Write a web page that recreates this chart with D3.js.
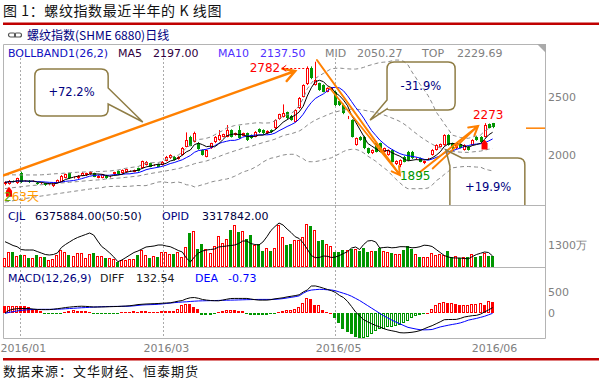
<!DOCTYPE html>
<html><head><meta charset="utf-8">
<script src="https://cdn.jsdelivr.net/npm/d3@7/dist/d3.min.js"></script>
<style>
body{margin:0;background:#fff}
svg{display:block}
text{font-family:"DejaVu Sans",sans-serif}
.cjk{font-family:"Noto Sans CJK SC",sans-serif}
</style></head><body>
<svg id="chart" width="599" height="380"></svg>
<script>
// ---------------- DATA ----------------
const opens = [1755,1749,1775,1757,1843,1775,1780,1772,1763,1757,
1757,1745,1730,1763,1771,1806,1843,1805,1800,1823,
1825,1834,1843,1806,1806,1823,1812,1834,1863,1843,
1857,1860,1857,1886,1891,1914,1928,1910,1920,1914,
1949,1971,1986,1966,2000,2071,2157,2114,2100,2043,
1986,2057,2108,2128,2157,2157,2214,2171,2214,2166,
2186,2171,2157,2223,2214,2186,2214,2228,2308,2328,
2366,2337,2286,2400,2500,2606,2743,2600,2614,2600,
2543,2557,2543,2460,2430,2314,2300,2086,2157,2157,
2057,2014,2100,2100,2028,2000,2043,1920,1914,1986,
2028,2028,1971,1971,1928,1965,2000,2043,2071,2086,
2171,2100,2057,2091,2043,2071,2086,2157,2157,2157,
2263,2271];
const highs = [1775,1785,1782,1805,1857,1782,1785,1782,1768,1765,
1762,1758,1762,1790,1828,1840,1848,1815,1828,1855,
1848,1862,1848,1828,1838,1830,1820,1856,1868,1876,
1882,1868,1875,1892,1952,1948,1934,1920,1926,1948,
1992,2006,1992,1990,2068,2194,2165,2200,2110,2048,
2048,2105,2162,2214,2182,2257,2220,2192,2251,2192,
2192,2176,2205,2228,2220,2212,2220,2306,2354,2434,
2372,2343,2392,2497,2606,2760,2760,2800,2620,2606,
2580,2580,2550,2470,2440,2335,2306,2150,2162,2165,
2063,2048,2106,2106,2063,2048,2050,1954,1962,1992,
2035,2035,1980,1978,1952,1975,2050,2092,2098,2178,
2178,2106,2092,2098,2092,2078,2135,2162,2162,2273,
2270,2275];
const lows = [1740,1745,1765,1752,1760,1770,1760,1768,1745,1750,
1735,1740,1725,1758,1768,1800,1795,1798,1795,1818,
1820,1830,1810,1800,1800,1795,1806,1830,1830,1840,
1852,1855,1852,1858,1886,1910,1895,1905,1895,1910,
1945,1966,1952,1960,1995,2066,2075,2108,2045,1995,
1980,2052,2102,2123,2152,2152,2150,2166,2138,2160,
2120,2138,2152,2188,2180,2180,2188,2222,2302,2322,
2308,2294,2280,2394,2494,2600,2650,2595,2550,2538,
2538,2550,2420,2420,2350,2308,2150,2080,2122,2050,
2008,2008,2022,2022,2022,1994,1937,1914,1895,1937,
1950,1965,1965,1938,1922,1960,1995,2038,2066,2080,
2080,2050,2050,2057,2038,2038,2080,2122,2108,2150,
2228,2230];
const closes = [1765,1777,1770,1800,1768,1777,1765,1776,1750,1760,
1740,1750,1757,1786,1823,1834,1800,1808,1823,1849,
1843,1857,1815,1823,1834,1800,1815,1851,1836,1871,
1877,1863,1871,1863,1948,1943,1900,1914,1900,1943,
1986,2000,1957,1986,2063,2128,2080,2186,2050,2000,
2043,2100,2157,2171,2177,2214,2157,2186,2143,2186,
2128,2143,2200,2194,2186,2206,2194,2300,2348,2357,
2314,2300,2386,2491,2600,2748,2657,2643,2557,2543,
2571,2571,2428,2430,2357,2328,2157,2143,2128,2057,
2014,2043,2028,2028,2057,2043,1943,1948,1957,1943,
1957,1971,1975,1943,1948,1968,2043,2086,2091,2171,
2086,2057,2086,2063,2086,2043,2128,2128,2114,2257,
2234,2240];
// volume (万手)
const volumes = [532,887,887,631,729,729,493,532,729,571,
591,394,433,690,1024,887,690,631,847,847,
532,788,827,670,670,532,532,433,276,374,
374,433,433,729,1024,690,532,630,591,867,
867,788,768,887,591,1162,2000,2150,1080,1360,
1080,830,1260,1850,1420,1680,2200,2480,2070,2150,
1680,1910,1280,1360,970,1120,930,1100,2500,1800,
1280,1380,1615,1615,1770,2560,2460,2200,1540,1580,
1340,1220,887,887,985,1024,1084,1084,946,1123,
887,946,946,1123,946,887,847,749,788,1024,
1221,1084,788,552,552,591,827,690,788,690,
946,591,630,493,591,591,749,591,630,847,
630,630];
// open interest (万手)
const openInterest = [389.0,381.8,373.8,369.0,357.8,355.8,355.8,355.8,349.8,343.8,
337.8,335.8,337.8,343.8,365.8,377.8,387.8,397.8,405.8,411.8,
417.8,423.8,415.8,391.8,369.8,357.8,343.8,327.8,309.0,315.8,
325.8,335.8,345.8,351.8,359.8,367.8,369.8,371.8,375.8,375.8,
371.8,369.0,361.8,353.8,347.8,323.8,307.8,327.8,343.8,351.8,
355.8,357.8,359.8,367.8,369.8,371.8,373.8,375.8,381.8,391.8,
391.8,381.8,377.8,375.8,387.8,409.0,433.8,449.8,463.8,455.8,
439.8,425.8,409.0,401.8,383.8,359.8,333.8,325.0,325.8,331.8,
330.6,325.8,327.8,333.8,341.8,349.0,363.8,367.8,357.8,377.8,
391.8,393.8,387.8,363.8,365.8,367.0,364.6,365.8,369.0,369.0,
367.8,364.6,365.8,369.0,375.0,373.8,369.8,357.8,345.8,333.8,
327.8,324.6,323.8,323.8,321.8,320.6,329.8,337.8,342.6,347.8,
345.8,331.8];
const diffValues = [7,70,95,108,112,112,111,100,90,87,
86,87,95,108,120,135,145,155,162,166,
162,156,148,148,150,152,155,158,160,166,
170,178,190,205,212,218,222,226,230,236,
242,246,265,285,300,340,365,370,352,325,
310,300,295,293,310,330,347,349,349,349,
349,335,320,310,310,310,320,340,352,365,
385,400,415,435,500,547,640,642,620,590,
560,531,490,420,370,280,160,31,-60,-150,
-200,-245,-286,-320,-360,-390,-410,-428,-455,-460,
-455,-445,-430,-405,-365,-325,-290,-245,-200,-151,
-146,-145,-143,-120,-87,-70,-55,-48,-20,31,
80,133];
const deaValues = [0,20,40,55,68,78,85,90,92,93,
93,93,94,96,100,106,112,118,124,130,
135,140,145,150,154,157,160,161,162,163,
165,168,175,185,195,200,203,206,212,220,
230,240,250,258,265,270,278,284,290,293,
295,297,299,302,305,307,309,311,314,317,
320,322,324,326,326,326,326,328,335,345,
360,375,390,410,470,520,545,555,563,560,
552,547,530,500,470,440,400,350,300,240,
180,120,60,0,-60,-110,-160,-205,-246,-290,
-330,-350,-370,-385,-389,-386,-380,-350,-320,-300,
-280,-262,-246,-225,-195,-160,-140,-120,-95,-70,
-35,-1];
const macdHist = [175,175,175,175,165,160,140,90,70,50,
-20,-25,-20,-25,-15,40,60,70,60,55,
50,40,-15,-20,-25,-20,-15,-10,-10,30,
35,40,45,40,50,45,40,40,40,45,
45,50,60,110,200,230,220,150,110,-30,
-45,-40,-25,40,55,70,80,70,60,45,
-15,-35,-40,-40,-35,-30,-15,-10,40,55,
70,80,95,140,240,357,335,200,200,80,
40,15,-120,-238,-357,-436,-476,-555,-580,-580,
-555,-476,-420,-380,-357,-333,-333,-300,-278,-238,
-175,-103,-63,-48,-24,15,95,198,238,262,
238,238,222,198,198,198,214,222,238,198,
293,266];
// Bollinger band values read for the first days (window history not shown)
const bollUpperEarly = [1830,1830,1830,1829,1829,1829,1829,1829,1829,1830,1832,1835,1838,1840,1842,1845,1847,1850,1852,1853,1855,1856,1857,1858,1859];
const bollMidEarly   = [1712,1716,1720,1724,1728,1732,1736,1739,1742,1745,1748,1751,1754,1757,1760,1763,1766,1769,1772,1775,1778,1781,1784,1786,1788];
const bollLowerEarly = [1597,1602,1608,1614,1620,1626,1632,1638,1643,1648,1653,1658,1663,1668,1673,1678,1683,1688,1693,1698,1703,1708,1712,1716,1719];
const priceTicks = [2000, 2500];
const volumeTicks = [1300];
const macdTicks = [0, 500];
const dateLabels = ["2016/01","2016/03","2016/05","2016/06"];
const dateIndex = [3.7, 39.2, 81.9, 120.6];
const legendBoll = ["BOLLBAND1(26,2)","MA5","2197.00","MA10","2137.50","MID","2050.27","TOP","2229.69"];
const legendVol = ["CJL","6375884.00(50:50)","OPID","3317842.00"];
const legendMacd = ["MACD(12,26,9)","DIFF","132.54","DEA","-0.73"];
const pctLabels = ["+72.2%","-31.9%","+19.9%"];
const extremeLabels = ["2782","2273","1895"];

// ---------------- SETUP ----------------
const svg = d3.select('#chart');
const N = closes.length;
const RED = '#ff0000', GREEN = '#009600', ORANGE = '#ff8000', BROWN = '#8f7d45';
const L = 3, R = 545, T = 44;
const x = d3.scaleLinear().domain([0, N - 1]).range([5, 492.6]);
const yP = d3.scaleLinear().domain([2000, 2500]).range([155, 96.7]);
const yV = d3.scaleLinear().domain([0, 1300]).range([266.7, 245]);
const yOI = d3.scaleLinear().domain([331.8, 463.8]).range([256, 223]);
const yM = d3.scaleLinear().domain([0, 500]).range([313.3, 292]);

const defs = svg.append('defs');
function clip(id, y0, y1){ defs.append('clipPath').attr('id', id).append('rect').attr('x', L).attr('y', y0).attr('width', R - L).attr('height', y1 - y0); }
clip('cp', 58, 205); clip('cv', 205, 267); clip('cm', 267, 338);

// Title
svg.append('text').attr('class','cjk').attr('x',3).attr('y',16).attr('font-size',14).attr('letter-spacing',0.6).attr('fill','#111').text('图 1：螺纹指数最近半年的 K 线图');
svg.append('rect').attr('x',3).attr('y',22.5).attr('width',596).attr('height',2.5).attr('fill','#c00000');
// link icon + subtitle
const ic = svg.append('g').attr('fill','none').attr('stroke','#555').attr('stroke-width',1.2);
ic.append('rect').attr('x',8.5).attr('y',33).attr('width',7).attr('height',4).attr('rx',2);
ic.append('rect').attr('x',14.5).attr('y',33).attr('width',7).attr('height',4).attr('rx',2);
svg.append('text').attr('class','cjk').attr('x',27).attr('y',39.5).attr('font-size',12).attr('fill','#000080').text('螺纹指数(SHME 6880)日线');

// Frame
const fr = svg.append('g').attr('stroke','#b4b4b4').attr('stroke-width',1).attr('fill','none');
fr.append('path').attr('d',`M${L+0.5},338.5V${T+0.5}H${R+0.5}V338.5H${L+0.5}`);
fr.append('line').attr('x1',L).attr('x2',R).attr('y1',205.5).attr('y2',205.5);
fr.append('line').attr('x1',L).attr('x2',R).attr('y1',267.5).attr('y2',267.5);
svg.append('path').attr('d',`M${R-8},${T}H${R+1}V${T+9}Z`).attr('fill','#aaa');

// month gridlines
const grid = svg.append('g').attr('stroke','#aaa').attr('stroke-dasharray','2,2');
dateIndex.slice(0,3).forEach(d => grid.append('line').attr('x1', Math.round(x(d))+0.5).attr('x2', Math.round(x(d))+0.5).attr('y1', 58).attr('y2', 338));

// ---------------- PRICE PANEL ----------------
const gP = svg.append('g').attr('clip-path','url(#cp)');
function sma(arr, n, i){ return d3.mean(arr.slice(Math.max(0, i - n + 1), i + 1)); }
const ma5 = closes.map((c, i) => sma(closes, 5, i));
const ma10 = closes.map((c, i) => sma(closes, 10, i));
const boll = closes.map((c, i) => {
  if (i < 25) return {u: bollUpperEarly[i], m: bollMidEarly[i], l: bollLowerEarly[i]};
  const w = closes.slice(i - 25, i + 1); const m = d3.mean(w);
  const sd = Math.sqrt(d3.mean(w, v => (v - m) * (v - m)));
  return {u: m + 2 * sd, m: m, l: m - 2 * sd};
});
// candles
closes.forEach((c, i) => {
  const cx = Math.round(x(i)); const up = c >= opens[i];
  const col = up ? RED : GREEN;
  gP.append('line').attr('x1', cx + 0.5).attr('x2', cx + 0.5).attr('y1', yP(highs[i])).attr('y2', yP(lows[i])).attr('stroke', col);
  const top = Math.round(yP(Math.max(c, opens[i]))), bot = Math.round(yP(Math.min(c, opens[i])));
  const h = Math.max(1, bot - top);
  if (up) gP.append('rect').attr('x', cx - 0.5).attr('y', top + 0.5).attr('width', 2).attr('height', Math.max(0, h - 1)).attr('fill', '#fff').attr('stroke', col);
  else gP.append('rect').attr('x', cx - 1).attr('y', top).attr('width', 3).attr('height', h).attr('fill', col);
});
const lineOf = (arr, ys) => d3.line().x((d, i) => x(i)).y(d => ys(d))(arr);
['u','m','l'].forEach(k => gP.append('path').attr('d', lineOf(boll.map(b => b[k]), yP)).attr('fill','none').attr('stroke','#8a8a8a').attr('stroke-dasharray','4,3'));
gP.append('path').attr('d', lineOf(ma10, yP)).attr('fill','none').attr('stroke','#0000ff');
gP.append('path').attr('d', lineOf(ma5, yP)).attr('fill','none').attr('stroke','#000');

// annotations (in data space)
function arrow(g, x1, y1, x2, y2, len, w){
  const a = Math.atan2(y2 - y1, x2 - x1);
  const p1 = [x2 - len * Math.cos(a - Math.PI / 6), y2 - len * Math.sin(a - Math.PI / 6)];
  const p2 = [x2 - len * Math.cos(a + Math.PI / 6), y2 - len * Math.sin(a + Math.PI / 6)];
  g.append('path').attr('d', `M${x1},${y1}L${x2},${y2}M${p1}L${x2},${y2}L${p2}`).attr('fill','none').attr('stroke', ORANGE).attr('stroke-width', w).attr('stroke-linecap','round');
}
const gA = svg.append('g').attr('clip-path','url(#cp)');
arrow(gA, x(-0.5), yP(1824), x(72), yP(2720), 13, 2.5);
arrow(gA, x(77.4), yP(2815), x(98), yP(1828), 9, 2);
gA.append('line').attr('x1', x(80.4)).attr('y1', yP(2583)).attr('x2', x(98)).attr('y2', yP(1828)).attr('stroke', ORANGE).attr('stroke-width', 1.8);
arrow(gA, x(103), yP(1854), x(117.4), yP(2249), 10, 2);
gA.append('line').attr('x1', x(106)).attr('y1', yP(1880)).attr('x2', x(117.4)).attr('y2', yP(2249)).attr('stroke', ORANGE).attr('stroke-width', 1.8);
svg.append('line').attr('x1', 526).attr('x2', R).attr('y1', yP(2230)).attr('y2', yP(2230)).attr('stroke', ORANGE).attr('stroke-width', 1.5);

function callout(d){ return gA.append('path').attr('d', d).attr('fill','none').attr('stroke', BROWN).attr('stroke-width', 1.5); }
{ // +72.2%
  const x0 = x(7.4), x1 = x(25.6), y0 = yP(2737), y1 = yP(2334), r = 7;
  callout(`M${x0+r},${y0}H${x1-r}Q${x1},${y0} ${x1},${y0+r}V${yP(2575)}L${x(34.2)},${yP(2283)}L${x1},${yP(2437)}V${y1-r}Q${x1},${y1} ${x1-r},${y1}H${x0+r}Q${x0},${y1} ${x0},${y1-r}V${y0+r}Q${x0},${y0} ${x0+r},${y0}Z`);
}
{ // -31.9%
  const x0 = x(94.8), x1 = x(111.7), y0 = yP(2798), y1 = yP(2386), r = 7;
  callout(`M${x0+r},${y0}H${x1-r}Q${x1},${y0} ${x1},${y0+r}V${y1-r}Q${x1},${y1} ${x1-r},${y1}H${x0+r}Q${x0},${y1} ${x0},${y1-1}L${x(90.6)},${yP(2300)}L${x0},${yP(2472)}V${y0+r}Q${x0},${y0} ${x0+r},${y0}Z`);
}
{ // +19.9%
  const x0 = x(110.4), x1 = x(129), y0 = yP(1974), y1 = yP(1485), r = 7;
  callout(`M${x(109.4)},${yP(2043)}L${x(113.4)},${y0}H${x1-r}Q${x1},${y0} ${x1},${y0+r}V${y1}H${x0}V${yP(1906)}Z`);
}
const pctPos = [[16.5, 2540], [103.2, 2592], [119.9, 1725]];
pctLabels.forEach((t, k) => gA.append('text').attr('x', x(pctPos[k][0])).attr('y', yP(pctPos[k][1])).attr('dy','0.35em').attr('text-anchor','middle').attr('font-size',11.5).attr('fill','#000080').text(t));

// extreme labels
gA.append('text').attr('x', x(68.3)).attr('y', yP(closes[75]) + 4.5).attr('text-anchor','end').attr('font-size',12).attr('fill', RED).text(extremeLabels[0]);
gA.append('line').attr('x1', x(68.8)).attr('x2', x(75) - 2).attr('y1', Math.round(yP(closes[75])) + 0.5).attr('y2', Math.round(yP(closes[75])) + 0.5).attr('stroke', RED).attr('stroke-dasharray','2,2');
gA.append('path').attr('d', `M${x(68.8)+4},${yP(closes[75])-2.5}L${x(68.8)},${yP(closes[75])+0.5}L${x(68.8)+4},${yP(closes[75])+3.5}`).attr('fill','none').attr('stroke', RED);
gA.append('text').attr('x', x(119.9)).attr('y', yP(highs[119]) - 4).attr('text-anchor','middle').attr('font-size',12).attr('fill', RED).text(extremeLabels[1]);
gA.append('text').attr('x', x(98)).attr('y', yP(lows[98]) + 13).attr('font-size',12).attr('fill', GREEN).text(extremeLabels[2]);
// signal markers below lows
[1, 119].forEach(i => {
  const cx = x(i), t = yP(lows[i]) + 2;
  gA.append('path').attr('d', `M${cx},${t}L${cx+3},${t+4}V${t+10}H${cx-3}V${t+4}Z`).attr('fill', RED);
});
const dayTxt = gA.append('text').attr('x', 4).attr('y', 201).attr('font-size', 12);
dayTxt.append('tspan').attr('fill','#66aa00').text('2');
dayTxt.append('tspan').attr('fill','#ff9900').text('63');
dayTxt.append('tspan').attr('class','cjk').attr('fill','#ff9900').text('天');

// ---------------- VOLUME PANEL ----------------
const gV = svg.append('g').attr('clip-path','url(#cv)');
volumes.forEach((v, i) => {
  const cx = Math.round(x(i)) - 1; const up = closes[i] >= opens[i];
  const top = Math.round(yV(v)), bot = Math.round(yV(0));
  if (up) gV.append('rect').attr('x', cx - 0.5).attr('y', top + 0.5).attr('width', 2).attr('height', bot - top - 1).attr('fill','#fff').attr('stroke', RED);
  else gV.append('rect').attr('x', cx - 1).attr('y', top).attr('width', 3).attr('height', bot - top).attr('fill', GREEN);
});
gV.append('path').attr('d', lineOf(openInterest, yOI)).attr('fill','none').attr('stroke','#000');

// ---------------- MACD PANEL ----------------
const gM = svg.append('g').attr('clip-path','url(#cm)');
macdHist.forEach((v, i) => {
  const cx = Math.round(x(i)) - 1; const pos = v >= 0; const col = pos ? RED : GREEN;
  const hollow = i > 0 && v >= macdHist[i - 1];
  const a = Math.round(yM(v)), b = Math.round(yM(0));
  const top = Math.min(a, b), bot = Math.max(a, b), h = Math.max(1, bot - top);
  if (hollow && h > 2) gM.append('rect').attr('x', cx - 0.5).attr('y', top + 0.5).attr('width', 2).attr('height', h - 1).attr('fill','#fff').attr('stroke', col);
  else gM.append('rect').attr('x', cx - 1).attr('y', top).attr('width', 3).attr('height', h).attr('fill', col);
});
gM.append('path').attr('d', lineOf(deaValues, yM)).attr('fill','none').attr('stroke','#0000ff');
gM.append('path').attr('d', lineOf(diffValues, yM)).attr('fill','none').attr('stroke','#000');

// ---------------- LEGENDS ----------------
function legend(items, xs, cols, y){
  const t = svg.append('g').attr('font-size', 11);
  items.forEach((s, k) => t.append('text').attr('x', xs[k]).attr('y', y).attr('fill', cols[k]).text(s));
}
legend(legendBoll, [8,118,153,218,260,325,357,422,457], ['#1010c0','#300040','#300040','#5030ff','#5030ff','#808080','#808080','#808080','#808080'], 56.5);
legend(legendVol, [8,35,162,202], ['#000080','#000040','#000080','#000040'], 219.5);
legend(legendMacd, [8,100,136,195,228], ['#000080','#202020','#202020','#0000ff','#0000ff'], 281.5);

// ---------------- AXES ----------------
function styleAxis(g){ g.select('.domain').remove(); g.selectAll('text').attr('fill','#808080').style('font-family','"DejaVu Sans"').style('font-size','11px'); }
const plain = d => String(d);
svg.append('g').attr('transform',`translate(${R},0)`).call(d3.axisRight(yP).tickValues(priceTicks).tickSize(0).tickPadding(3).tickFormat(plain)).call(styleAxis);
svg.append('g').attr('transform',`translate(${R},0)`).call(d3.axisRight(yV).tickValues(volumeTicks).tickSize(0).tickPadding(3).tickFormat(d => d + '万')).call(styleAxis);
svg.append('g').attr('transform',`translate(${R},0)`).call(d3.axisRight(yM).tickValues(macdTicks).tickSize(0).tickPadding(3).tickFormat(plain)).call(styleAxis);
svg.append('g').attr('transform','translate(3,341.5)').call(d3.axisBottom(x).tickValues(dateIndex).tickSize(0).tickPadding(3).tickFormat((d, k) => dateLabels[k])).call(styleAxis);

// bottom rule + source
svg.append('rect').attr('x',3).attr('y',358).attr('width',596).attr('height',2.5).attr('fill','#c00000');
svg.append('text').attr('class','cjk').attr('x',3).attr('y',376).attr('font-size',13).attr('letter-spacing',1).attr('fill','#111').text('数据来源：文华财经、恒泰期货');
</script></body></html>
